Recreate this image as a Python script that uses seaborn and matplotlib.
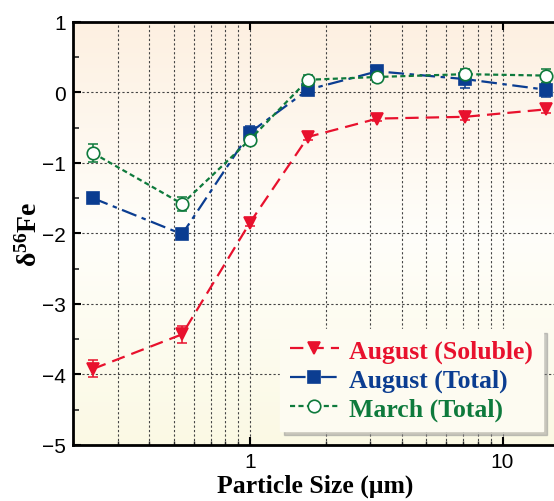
import matplotlib
matplotlib.use('Agg')
import matplotlib.pyplot as plt
import seaborn as sns
import numpy as np
from matplotlib.ticker import LogLocator, MultipleLocator, NullFormatter, FixedLocator, FixedFormatter

# particle size (um) and delta56Fe values
size = [0.24, 0.54, 1.0, 1.7, 3.2, 7.1, 14.8]

aug_soluble = [-3.92, -3.43, -1.85, -0.63, -0.37, -0.345, -0.24]
aug_soluble_err = [0.12, 0.12, 0.05, 0.05, 0.04, 0.04, 0.05]

aug_total = [-1.5, -2.01, -0.57, 0.04, 0.30, 0.19, 0.04]
aug_total_err = [0.05, 0.04, 0.1, 0.05, 0.05, 0.13, 0.1]

mar_total = [-0.86, -1.58, -0.67, 0.18, 0.22, 0.26, 0.24]
mar_total_err = [0.13, 0.1, 0.05, 0.07, 0.07, 0.07, 0.1]

labels = ['August (Soluble)', 'August (Total)', 'March (Total)']
colors = ['#e8112d', '#0b3d91', '#0e7a3c']

sns.set_theme(style='ticks')
plt.rcParams['font.family'] = ['Liberation Sans', 'DejaVu Sans']
plt.rcParams['text.color'] = 'black'
plt.rcParams['axes.labelcolor'] = 'black'
plt.rcParams['mathtext.fontset'] = 'custom'
plt.rcParams['mathtext.rm'] = 'Liberation Serif'
plt.rcParams['mathtext.bf'] = 'Liberation Serif:bold'

fig = plt.figure(figsize=(5.54, 5.02), dpi=100)
ax = fig.add_axes([0.132, 0.1116, 0.8755, 0.8426])
ax.set_xscale('log')

# background gradient
top = np.array([253, 240, 225]) / 255
mid = np.array([255, 254, 250]) / 255
bot = np.array([251, 249, 228]) / 255
t = np.linspace(0, 1, 256)[:, None]
grad = np.where(t < 0.5, top + (mid - top) * (t / 0.5), mid + (bot - mid) * ((t - 0.5) / 0.5))
ax.imshow(grad[:, None, :].repeat(2, axis=1), extent=[0, 1, 0, 1], transform=ax.transAxes,
          aspect='auto', zorder=0)

series = [
    (aug_soluble, aug_soluble_err, 'v', (0, (6, 3.2)), colors[0], colors[0], 8),
    (aug_total, aug_total_err, 's', (0, (7, 2.5, 2, 2.5)), colors[1], colors[1], 8.5),
    (mar_total, mar_total_err, 'o', (0, (2.3, 1.5)), colors[2], 'white', 9),
]

for (vals, err, mk, ls, col, fc, ms), lab in zip(series, labels):
    ax.errorbar(size, vals, yerr=err, fmt='none', ecolor=col, elinewidth=1.1,
                capsize=3.5, capthick=1.1, zorder=3)
    sns.lineplot(x=size, y=vals, ax=ax, color=col, marker=mk, linestyle=ls,
                 linewidth=1.6, markersize=ms, markerfacecolor=fc,
                 markeredgecolor=col, markeredgewidth=1.2, label=lab,
                 errorbar=None, sort=False, zorder=4)

ax.set_xlim(0.2, 16.6)
ax.set_ylim(-5, 1)

ax.xaxis.set_major_locator(FixedLocator([1, 10]))
ax.xaxis.set_major_formatter(FixedFormatter(['1', '10']))
ax.xaxis.set_minor_locator(LogLocator(base=10, subs=np.arange(2, 10)))
ax.xaxis.set_minor_formatter(NullFormatter())
ax.yaxis.set_major_locator(MultipleLocator(1))
ax.yaxis.set_minor_locator(MultipleLocator(0.5))

ax.grid(which='major', axis='both', color='#444444', linestyle=(0, (2, 2)), linewidth=0.8)
ax.grid(which='minor', axis='x', color='#444444', linestyle=(0, (2, 2)), linewidth=0.8)

ax.tick_params(axis='both', which='major', direction='in', length=6, width=1.5,
               labelsize=15, top=True, colors='black', labelcolor='black', pad=5)
ax.tick_params(axis='y', which='minor', direction='in', length=4, width=1.2)
ax.tick_params(axis='x', which='minor', direction='in', length=3, width=1, top=False)

for sp in ax.spines.values():
    sp.set_linewidth(2)
    sp.set_color('black')
ax.spines['right'].set_visible(False)

ax.set_xlabel('Particle Size (μm)', fontsize=18.5, fontweight='bold',
              family='Liberation Serif', labelpad=2)
ax.set_ylabel(r'$\mathbf{\delta^{56}Fe}$', fontsize=20, labelpad=0)

leg = ax.legend(loc='lower right', bbox_to_anchor=(0.969, 0.033),
                prop={'family': 'Liberation Serif', 'weight': 'bold', 'size': 18.5},
                labelcolor='linecolor', frameon=True, fancybox=False,
                shadow={'color': '0.55', 'alpha': 0.45, 'ox': 3, 'oy': -3},
                facecolor='#fdfbf1', edgecolor='#fdfbf1', framealpha=1,
                handlelength=1.9, handletextpad=0.4, borderpad=0.4, labelspacing=0.22,
                borderaxespad=0)
leg.set_zorder(10)

fig.savefig('out.png', dpi=100)
